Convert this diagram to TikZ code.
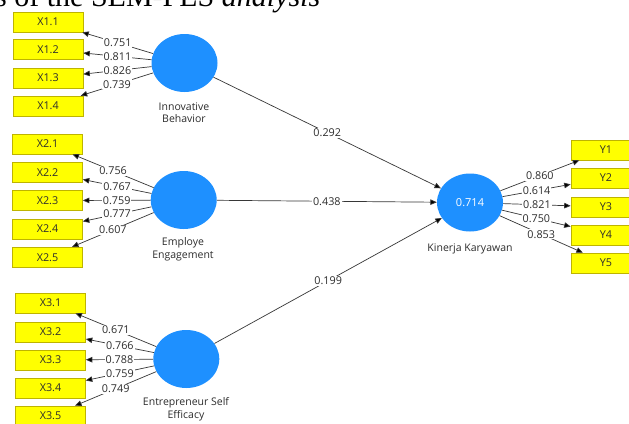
\documentclass[tikz,border=0pt]{standalone}
\usepackage{fontspec}
\setmainfont{Open Sans}
\newfontfamily\capfont{Liberation Serif}
\usetikzlibrary{arrows.meta,shapes.geometric}
\definecolor{lvblue}{RGB}{30,144,255}
\definecolor{indyel}{RGB}{255,255,0}
\definecolor{indbord}{RGB}{190,180,0}
\definecolor{txtgray}{RGB}{45,45,45}
\definecolor{linegray}{RGB}{55,55,55}
\begin{document}
\begin{tikzpicture}[x=1pt,y=-1pt,
  ind/.style={draw=indbord, fill=indyel, line width=0.6pt, minimum width=70pt,
    minimum height=20pt, inner sep=0pt, font=\fontsize{10.8}{12}\selectfont, text=txtgray},
  lv/.style={ellipse, fill=lvblue, minimum width=66pt, minimum height=58pt, inner sep=0pt,
    font=\fontsize{11}{12}\selectfont, text=white},
  lvlabel/.style={align=center, inner sep=0pt, font=\fontsize{10.5}{12.5}\selectfont, text=txtgray},
  coef/.style={fill=white, inner sep=1pt, font=\fontsize{10.8}{12}\selectfont, text=txtgray},
  arr/.style={draw=linegray, line width=0.7pt, -{Triangle[length=6.5pt,width=5.5pt,fill=black]}}]
\useasboundingbox (0,0) rectangle (629,423);
\clip (0,0) rectangle (629,423);
\fill[white] (0,0) rectangle (629,423);
% partially cropped caption
\node[anchor=base west, inner sep=0pt, font=\capfont\fontsize{30}{32}\selectfont] (cap) at (-5,6) {s of the SEM-PLS \textit{analysis}};
% indicators
\node[ind] (x11) at (48,22) {X1.1};
\node[ind] (x12) at (48,49.5) {X1.2};
\node[ind] (x13) at (48,78) {X1.3};
\node[ind] (x14) at (48,106) {X1.4};
\node[ind] (x21) at (47.5,144) {X2.1};
\node[ind] (x22) at (47.5,172.3) {X2.2};
\node[ind] (x23) at (47.5,200.6) {X2.3};
\node[ind] (x24) at (47.5,228.9) {X2.4};
\node[ind] (x25) at (47.5,257.2) {X2.5};
\node[ind] (x31) at (50.5,303) {X3.1};
\node[ind] (x32) at (50.5,332) {X3.2};
\node[ind] (x33) at (50.5,360) {X3.3};
\node[ind] (x34) at (50.5,388) {X3.4};
\node[ind] (x35) at (50.5,416) {X3.5};
\node[ind] (y1) at (606,150) {Y1};
\node[ind] (y2) at (606,178) {Y2};
\node[ind] (y3) at (606,207) {Y3};
\node[ind] (y4) at (606,235) {Y4};
\node[ind] (y5) at (606,263) {Y5};
% latent variables
\node[lv] (ib) at (184.5,63) {};
\node[lv] (ee) at (183.7,200) {};
\node[lv] (ese) at (186.3,359) {};
\node[lv] (kk) at (470,202.5) {0.714};
\node[lvlabel] (ibl) at (184,112.5) {Innovative\\Behavior};
\node[lvlabel] (eel) at (183,249.5) {Employe\\Engagement};
\node[lvlabel] (esel) at (186,409) {Entrepreneur Self\\Efficacy};
\node[lvlabel] (kkl) at (470,249) {Kinerja Karyawan};
% outer loadings
\draw[arr] (ib) -- node[coef]{0.751} (x11);
\draw[arr] (ib) -- node[coef]{0.811} (x12);
\draw[arr] (ib) -- node[coef]{0.826} (x13);
\draw[arr] (ib) -- node[coef]{0.739} (x14);
\draw[arr] (ee) -- node[coef]{0.756} (x21);
\draw[arr] (ee) -- node[coef]{0.767} (x22);
\draw[arr] (ee) -- node[coef]{0.759} (x23);
\draw[arr] (ee) -- node[coef]{0.777} (x24);
\draw[arr] (ee) -- node[coef]{0.607} (x25);
\draw[arr] (ese) -- node[coef]{0.671} (x31);
\draw[arr] (ese) -- node[coef]{0.766} (x32);
\draw[arr] (ese) -- node[coef]{0.788} (x33);
\draw[arr] (ese) -- node[coef]{0.759} (x34);
\draw[arr] (ese) -- node[coef]{0.749} (x35);
\draw[arr] (kk) -- node[coef]{0.860} (y1);
\draw[arr] (kk) -- node[coef]{0.614} (y2);
\draw[arr] (kk) -- node[coef]{0.821} (y3);
\draw[arr] (kk) -- node[coef]{0.750} (y4);
\draw[arr] (kk) -- node[coef]{0.853} (y5);
% path coefficients
\draw[arr] (ib) -- node[coef]{0.292} (kk);
\draw[arr] (ee) -- node[coef]{0.438} (kk);
\draw[arr] (ese) -- node[coef]{0.199} (kk);
\end{tikzpicture}
\end{document}
